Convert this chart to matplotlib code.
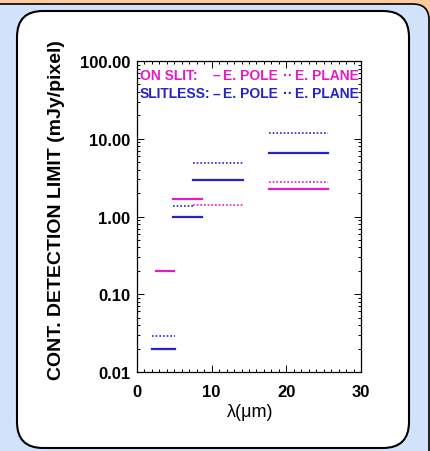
import matplotlib
matplotlib.use("Agg")
import matplotlib.pyplot as plt
from matplotlib.patches import FancyBboxPatch
from matplotlib.transforms import IdentityTransform
from matplotlib.ticker import FixedLocator, MultipleLocator, LogLocator, NullFormatter

plt.rcParams['font.family'] = ['Liberation Sans', 'DejaVu Sans']

# wavelength ranges (um) and detection limits (mJy/pixel)
onslit_pole_lo = [2.6, 4.8, 17.7]
onslit_pole_hi = [4.9, 8.7, 25.6]
onslit_pole_val = [0.20, 1.66, 2.26]

onslit_plane_lo = [7.5, 17.7]
onslit_plane_hi = [14.2, 25.6]
onslit_plane_val = [1.42, 2.75]

slitless_pole_lo = [2.0, 4.8, 7.45, 17.7]
slitless_pole_hi = [5.1, 8.7, 14.15, 25.6]
slitless_pole_val = [0.020, 1.0, 2.94, 6.5]

slitless_plane_lo = [2.0, 4.8, 7.45, 17.7]
slitless_plane_hi = [5.1, 7.5, 14.15, 25.6]
slitless_plane_val = [0.029, 1.36, 4.9, 11.8]

yticks = [0.01, 0.1, 1, 10, 100]
ytick_labels = ['0.01', '0.10', '1.00', '10.00', '100.00']
xticks = [0, 10, 20, 30]

magenta = '#e21cc6'
blue = '#2424c8'
dots = (0, (1.0, 1.2))

fig = plt.figure(figsize=(4.31, 4.52), dpi=100)
fig.patch.set_facecolor('#fdc99f')

# background panels (pixel coords)
blue_panel = FancyBboxPatch((-40, -40), 469, 447 + 40, boxstyle="round,pad=0,rounding_size=16",
                            transform=IdentityTransform(), facecolor='#d3e2fb',
                            edgecolor='black', linewidth=1.2, zorder=-3)
white_panel = FancyBboxPatch((17, 3), 392, 437, boxstyle="round,pad=0,rounding_size=26",
                             transform=IdentityTransform(), facecolor='white',
                             edgecolor='black', linewidth=1.5, zorder=-2)
fig.patches.extend([blue_panel, white_panel])

ax = fig.add_axes([0.3179, 0.1748, 0.5197, 0.688])
ax.set_zorder(1)

# bars for each band
for lo, hi, v in zip(slitless_plane_lo, slitless_plane_hi, slitless_plane_val):
    ax.plot([lo, hi], [v, v], color=blue, lw=1.2, linestyle=dots)
for lo, hi, v in zip(slitless_pole_lo, slitless_pole_hi, slitless_pole_val):
    ax.plot([lo, hi], [v, v], color=blue, lw=1.6)
for lo, hi, v in zip(onslit_plane_lo, onslit_plane_hi, onslit_plane_val):
    ax.plot([lo, hi], [v, v], color=magenta, lw=1.2, linestyle=dots)
for lo, hi, v in zip(onslit_pole_lo, onslit_pole_hi, onslit_pole_val):
    ax.plot([lo, hi], [v, v], color=magenta, lw=1.6)

ax.set_yscale('log')
ax.set_xlim(0, 30)
ax.set_ylim(0.01, 100)

ax.yaxis.set_major_locator(FixedLocator(yticks))
ax.set_yticklabels(ytick_labels)
ax.yaxis.set_minor_locator(LogLocator(base=10, subs=range(2, 10)))
ax.yaxis.set_minor_formatter(NullFormatter())
ax.xaxis.set_major_locator(FixedLocator(xticks))
ax.xaxis.set_minor_locator(MultipleLocator(1))

ax.tick_params(which='both', direction='in', top=True, right=True, width=0.7)
ax.tick_params(which='major', length=5)
ax.tick_params(which='minor', length=2.5)
ax.tick_params(axis='y', which='major', pad=5)
ax.tick_params(axis='x', which='major', pad=9)
for lab in ax.get_xticklabels() + ax.get_yticklabels():
    lab.set_fontsize(12)
    lab.set_fontweight('bold')
for s in ax.spines.values():
    s.set_linewidth(0.9)

ax.set_ylabel('CONT. DETECTION LIMIT (mJy/pixel)', fontsize=14, fontweight='bold')
ax.yaxis.set_label_coords(-0.321, 0.524)
ax.set_xlabel('λ(μm)', fontsize=13)
ax.xaxis.set_label_coords(0.504, -0.1)

# legend text
fs = 10
ax.text(0.013, 0.955, 'ON SLIT:', color=magenta, fontsize=fs, fontweight='bold',
        transform=ax.transAxes, va='center', ha='left')
ax.text(0.338, 0.955, '–', color=magenta, fontsize=fs, fontweight='bold',
        transform=ax.transAxes, va='center', ha='left')
ax.text(0.382, 0.955, 'E. POLE', color=magenta, fontsize=fs, fontweight='bold',
        transform=ax.transAxes, va='center', ha='left')
ax.text(0.652, 0.955, '··', color=magenta, fontsize=fs, fontweight='bold',
        transform=ax.transAxes, va='center', ha='left')
ax.text(0.705, 0.955, 'E. PLANE', color=magenta, fontsize=fs, fontweight='bold',
        transform=ax.transAxes, va='center', ha='left')

ax.text(0.013, 0.896, 'SLITLESS:', color=blue, fontsize=fs, fontweight='bold',
        transform=ax.transAxes, va='center', ha='left')
ax.text(0.338, 0.896, '–', color=blue, fontsize=fs, fontweight='bold',
        transform=ax.transAxes, va='center', ha='left')
ax.text(0.382, 0.896, 'E. POLE', color=blue, fontsize=fs, fontweight='bold',
        transform=ax.transAxes, va='center', ha='left')
ax.text(0.652, 0.896, '··', color=blue, fontsize=fs, fontweight='bold',
        transform=ax.transAxes, va='center', ha='left')
ax.text(0.705, 0.896, 'E. PLANE', color=blue, fontsize=fs, fontweight='bold',
        transform=ax.transAxes, va='center', ha='left')

fig.savefig('out.png', dpi=100, facecolor=fig.get_facecolor())
